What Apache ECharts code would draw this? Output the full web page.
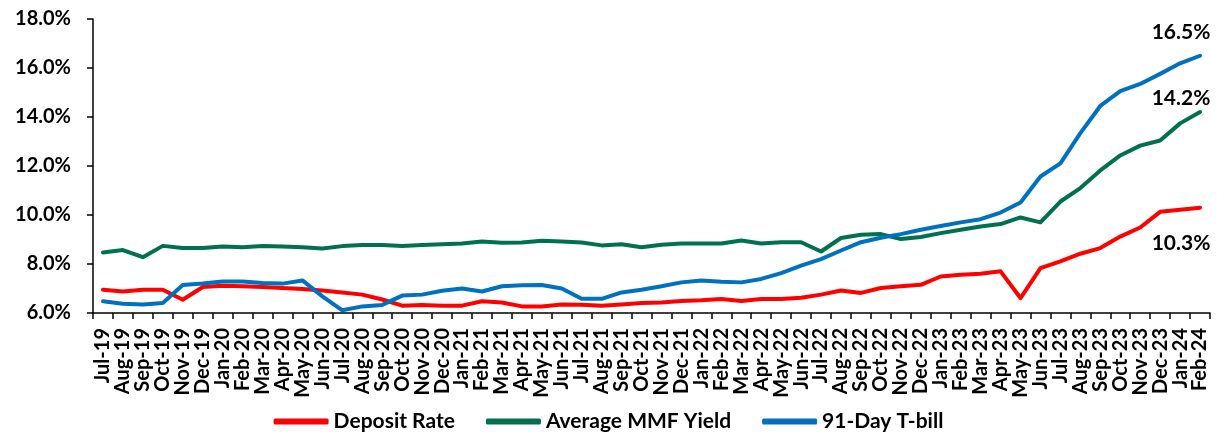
<!DOCTYPE html>
<html>
<head>
<meta charset="utf-8">
<title>Deposit Rate, MMF Yield and 91-Day T-bill</title>
<script src="https://cdn.jsdelivr.net/npm/echarts@6/dist/echarts.min.js"></script>
<style>
  html, body { margin: 0; padding: 0; background: #fff; }
  #chart { width: 1217px; height: 434px; }
</style>
</head>
<body>
<div id="chart"></div>
<script>
// Monthly categories, Jul-2019 to Feb-2024
const months = [
  'Jul-19','Aug-19','Sep-19','Oct-19','Nov-19','Dec-19',
  'Jan-20','Feb-20','Mar-20','Apr-20','May-20','Jun-20','Jul-20','Aug-20','Sep-20','Oct-20','Nov-20','Dec-20',
  'Jan-21','Feb-21','Mar-21','Apr-21','May-21','Jun-21','Jul-21','Aug-21','Sep-21','Oct-21','Nov-21','Dec-21',
  'Jan-22','Feb-22','Mar-22','Apr-22','May-22','Jun-22','Jul-22','Aug-22','Sep-22','Oct-22','Nov-22','Dec-22',
  'Jan-23','Feb-23','Mar-23','Apr-23','May-23','Jun-23','Jul-23','Aug-23','Sep-23','Oct-23','Nov-23','Dec-23',
  'Jan-24','Feb-24'
];

// Rates in percent
const depositRate = [
  6.95, 6.88, 6.95, 6.95, 6.54, 7.06,
  7.11, 7.09, 7.06, 7.02, 6.98, 6.92, 6.84, 6.75, 6.55, 6.30, 6.33, 6.30,
  6.30, 6.48, 6.43, 6.27, 6.27, 6.35, 6.34, 6.30, 6.35, 6.41, 6.43, 6.49,
  6.52, 6.57, 6.49, 6.57, 6.57, 6.62, 6.75, 6.92, 6.82, 7.02, 7.09, 7.15,
  7.49, 7.56, 7.60, 7.70, 6.61, 7.83, 8.11, 8.42, 8.65, 9.12, 9.49, 10.13,
  10.21, 10.3
];

const mmfYield = [
  8.47, 8.57, 8.28, 8.74, 8.65, 8.65,
  8.71, 8.68, 8.73, 8.71, 8.68, 8.63, 8.73, 8.78, 8.78, 8.73, 8.78, 8.81,
  8.84, 8.92, 8.87, 8.88, 8.95, 8.92, 8.88, 8.76, 8.81, 8.68, 8.79, 8.84,
  8.84, 8.84, 8.96, 8.84, 8.89, 8.89, 8.51, 9.06, 9.19, 9.22, 9.02, 9.10,
  9.26, 9.40, 9.53, 9.63, 9.90, 9.70, 10.55, 11.10, 11.82, 12.43, 12.83, 13.04,
  13.74, 14.2
];

const tbill91 = [
  6.48, 6.38, 6.35, 6.41, 7.14, 7.20,
  7.29, 7.29, 7.22, 7.20, 7.33, 6.68, 6.11, 6.27, 6.33, 6.71, 6.75, 6.91,
  7.00, 6.88, 7.09, 7.13, 7.14, 7.00, 6.58, 6.58, 6.84, 6.95, 7.09, 7.25,
  7.33, 7.28, 7.25, 7.39, 7.63, 7.93, 8.20, 8.55, 8.89, 9.07, 9.22, 9.40,
  9.55, 9.70, 9.83, 10.10, 10.51, 11.57, 12.11, 13.34, 14.45, 15.06, 15.35, 15.76,
  16.19, 16.5
];

const FONT = 'Lato, "Open Sans", sans-serif';

// Value tag on the latest month of a series
function latestTag(values, position, offset) {
  const last = values.length - 1;
  return {
    silent: true,
    animation: false,
    symbol: 'circle',
    symbolSize: 1,
    itemStyle: { color: 'rgba(0,0,0,0)' },
    label: {
      show: true,
      position: position,
      offset: offset,
      formatter: function (p) { return Number(p.value).toFixed(1) + '%'; },
      fontFamily: FONT,
      fontWeight: 'bold',
      fontSize: 21,
      color: '#000'
    },
    data: [{ coord: [last, values[last]], value: values[last] }]
  };
}

function lineSeries(name, color, values, pos, off) {
  return {
    name: name,
    type: 'line',
    data: values,
    symbol: 'none',
    showSymbol: false,
    lineStyle: { color: color, width: 4, cap: 'round', join: 'round' },
    itemStyle: { color: color },
    emphasis: { disabled: true },
    markPoint: latestTag(values, pos, off)
  };
}

const chart = echarts.init(document.getElementById('chart'), null, { renderer: 'canvas' });

chart.setOption({
  animation: false,
  backgroundColor: '#fff',
  grid: { left: 93, right: 7, top: 19, bottom: 121, containLabel: false },
  legend: {
    top: 406,
    left: 'center',
    icon: 'roundRect',
    itemWidth: 55,
    itemHeight: 6,
    itemGap: 31,
    textStyle: { fontFamily: FONT, fontWeight: 'bold', fontSize: 21, color: '#000' },
    data: ['Deposit Rate', 'Average MMF Yield', '91-Day T-bill']
  },
  xAxis: {
    type: 'category',
    data: months,
    boundaryGap: true,
    axisLine: { lineStyle: { color: '#000', width: 1.5 } },
    axisTick: { show: true, alignWithLabel: false, interval: 0, length: 6, inside: false, lineStyle: { color: '#000', width: 1.5 } },
    axisLabel: {
      interval: 0,
      rotate: 90,
      margin: 15,
      fontFamily: FONT,
      fontWeight: 'bold',
      fontSize: 20,
      color: '#000'
    },
    splitLine: { show: false }
  },
  yAxis: {
    type: 'value',
    min: 6,
    max: 18,
    interval: 2,
    axisLine: { show: true, lineStyle: { color: '#000', width: 1.5 } },
    axisTick: { show: true, length: 6, lineStyle: { color: '#000', width: 1.5 } },
    axisLabel: {
      margin: 22,
      formatter: function (v) { return v.toFixed(1) + '%'; },
      fontFamily: FONT,
      fontWeight: 'bold',
      fontSize: 20,
      color: '#000'
    },
    splitLine: { show: false }
  },
  series: [
    lineSeries('Deposit Rate', '#FF0000', depositRate, 'bottom', [-19, 20]),
    lineSeries('Average MMF Yield', '#00704F', mmfYield, 'top', [-19, 2]),
    lineSeries('91-Day T-bill', '#0070C0', tbill91, 'top', [-19, -8])
  ]
});
</script>
</body>
</html>
